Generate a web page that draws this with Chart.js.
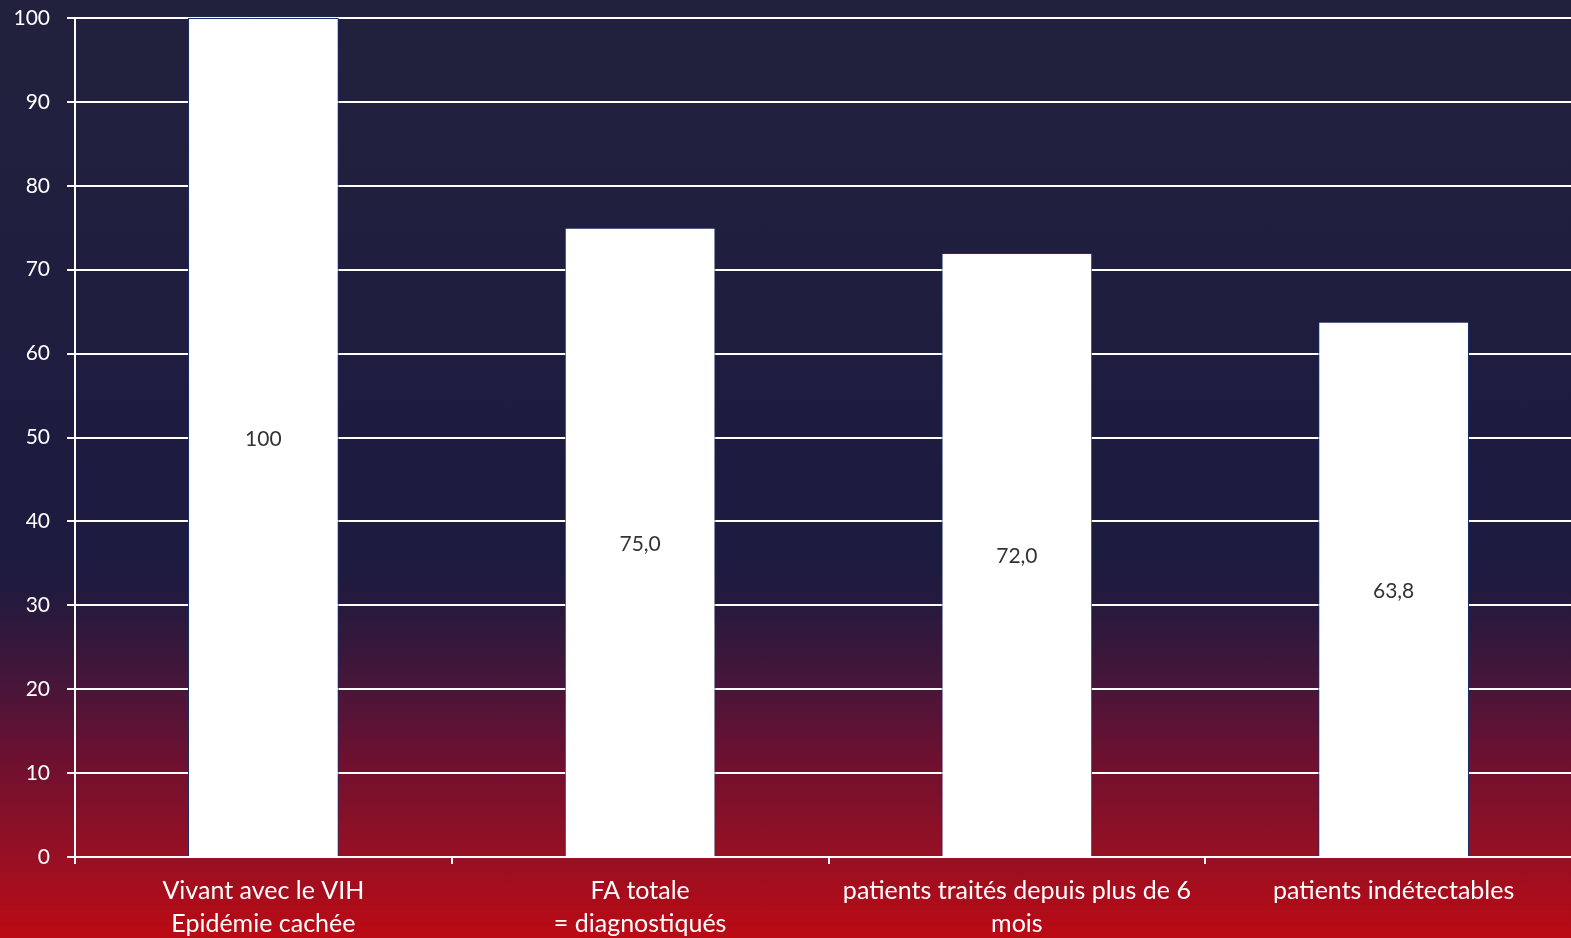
<!DOCTYPE html>
<html lang="fr">
<head>
    <meta charset="UTF-8">
    <title>Cascade VIH</title>
    <script src="https://cdn.jsdelivr.net/npm/chart.js"></script>
    <style>
        html, body { margin: 0; padding: 0; }
        body {
            width: 1571px;
            height: 938px;
            overflow: hidden;
            background: linear-gradient(to bottom,
                #22213d 0px, #1c1b40 560px, #241a3d 600px, #45163a 680px,
                #6e1030 760px, #941024 850px, #bc0a14 938px);
        }
        /* plot runs slightly past the right edge, as in the original slide */
        .chart-container { position: relative; width: 1582px; height: 938px; }
    </style>
</head>
<body>
    <div class="chart-container">
        <canvas id="cascadeChart"></canvas>
    </div>
    <script>
        // data
        const categories = [
            ['Vivant avec le VIH', 'Epidémie cachée'],
            ['FA totale', '= diagnostiqués'],
            ['patients traités depuis plus de 6', 'mois'],
            ['patients indétectables']
        ];
        const values = [100, 75.0, 72.0, 63.8];
        const valueLabels = ['100', '75,0', '72,0', '63,8'];
        const yTicks = [0, 10, 20, 30, 40, 50, 60, 70, 80, 90, 100];

        // labels in the middle of each bar
        const barLabels = {
            id: 'barLabels',
            afterDatasetsDraw(chart) {
                const ctx = chart.ctx;
                const meta = chart.getDatasetMeta(0);
                ctx.save();
                ctx.font = '21px Lato';
                ctx.fillStyle = '#333333';
                ctx.textAlign = 'center';
                ctx.textBaseline = 'middle';
                meta.data.forEach((bar, i) => {
                    const mid = (bar.y + bar.base) / 2;
                    ctx.fillText(valueLabels[i], bar.x, mid + 2);
                });
                ctx.restore();
            }
        };

        const ctx = document.getElementById('cascadeChart').getContext('2d');
        const chart = new Chart(ctx, {
            type: 'bar',
            data: {
                labels: categories,
                datasets: [{
                    data: values,
                    backgroundColor: '#ffffff',
                    borderColor: '#1a2f6b',
                    borderWidth: 1,
                    categoryPercentage: 1,
                    barPercentage: 0.4
                }]
            },
            options: {
                responsive: true,
                maintainAspectRatio: false,
                animation: false,
                layout: { padding: { top: 18, right: 0, left: 0, bottom: 0 } },
                plugins: {
                    legend: { display: false },
                    tooltip: { enabled: false }
                },
                scales: {
                    x: {
                        offset: true,
                        grid: {
                            offset: true,
                            drawOnChartArea: false,
                            color: '#ffffff',
                            lineWidth: 2,
                            tickLength: 7
                        },
                        border: { color: '#ffffff', width: 2 },
                        ticks: {
                            color: '#ffffff',
                            font: { family: 'Lato', size: 25, lineHeight: 1.32 },
                            maxRotation: 0,
                            autoSkip: false,
                            padding: 10
                        },
                        afterFit(scale) {
                            scale.height = 81;
                            scale.paddingLeft = 0;
                            scale.paddingRight = 0;
                        }
                    },
                    y: {
                        min: 0,
                        max: 100,
                        afterBuildTicks(scale) {
                            scale.ticks = yTicks.map(v => ({ value: v }));
                        },
                        grid: {
                            color: '#ffffff',
                            lineWidth: 2,
                            tickLength: 8
                        },
                        border: { color: '#ffffff', width: 2 },
                        ticks: {
                            color: '#ffffff',
                            font: { family: 'Lato', size: 21 },
                            padding: 17
                        },
                        afterFit(scale) {
                            scale.width = 75;
                            scale.paddingTop = 0;
                            scale.paddingBottom = 0;
                        }
                    }
                }
            },
            plugins: [barLabels]
        });
    </script>
</body>
</html>
